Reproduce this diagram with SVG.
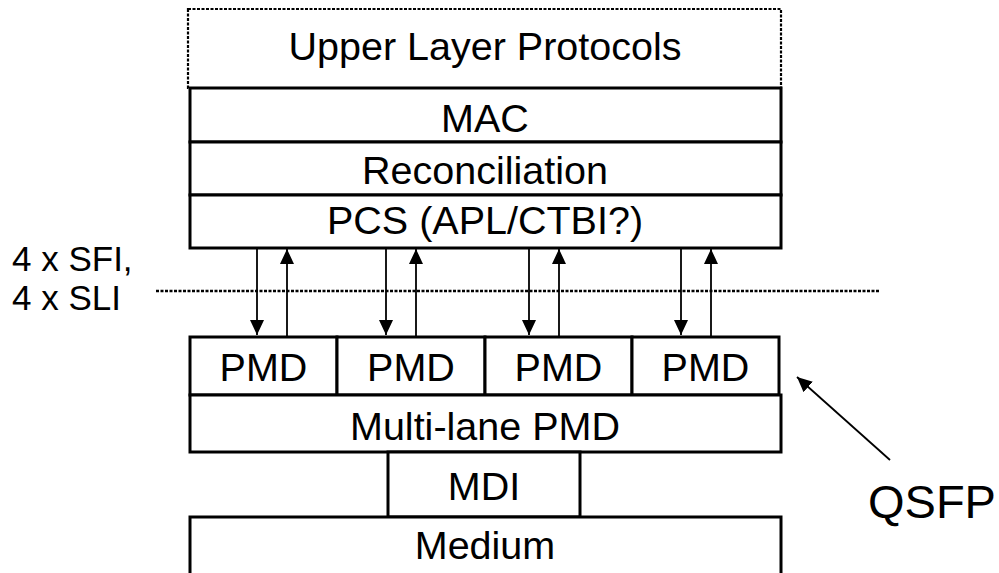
<svg xmlns="http://www.w3.org/2000/svg" width="999" height="573" viewBox="0 0 999 573">
<style>
.box{fill:#fff;stroke:#000;stroke-width:3}
.dot{fill:#fff;stroke:#000;stroke-width:2.2;stroke-dasharray:3,1.5}
text{font-family:"Liberation Sans",Arial,sans-serif;font-size:39.5px;fill:#000;text-anchor:middle}
.lbl{text-anchor:start}
.ar{stroke:#000;stroke-width:1.8;fill:none}
</style>
<defs>
<marker id="ah2" viewBox="0 0 15 14" refX="15" refY="7" markerWidth="15" markerHeight="14" markerUnits="userSpaceOnUse" orient="auto">
<path d="M0,0 L15,7 L0,14 Z" fill="#000"/>
</marker>
</defs>
<rect width="999" height="573" fill="#fff"/>
<g id="upper"><rect class="dot" x="188" y="9" width="593" height="79"/><text x="485" y="60">Upper Layer Protocols</text></g>
<g id="mac"><rect class="box" x="190" y="88" width="591" height="54"/><text x="485" y="132">MAC</text></g>
<g id="rec"><rect class="box" x="190" y="142" width="591" height="53"/><text x="485" y="184">Reconciliation</text></g>
<g id="pcs"><rect class="box" x="190" y="195" width="591" height="53"/><text x="485" y="234">PCS (APL/CTBI?)</text></g>
<g id="sfi"><text class="lbl" style="font-size:35px"><tspan x="12" y="271">4 x SFI,</tspan><tspan x="12" y="310">4 x SLI</tspan></text></g>
<line x1="156" y1="291" x2="880" y2="291" stroke="#000" stroke-width="2.4" stroke-dasharray="3,1.5"/>
<g id="pmd1"><rect class="box" x="190" y="337" width="147" height="58"/><text x="263.5" y="381">PMD</text></g>
<g id="pmd2"><rect class="box" x="337" y="337" width="148" height="58"/><text x="411" y="381">PMD</text></g>
<g id="pmd3"><rect class="box" x="485" y="337" width="147" height="58"/><text x="558.5" y="381">PMD</text></g>
<g id="pmd4"><rect class="box" x="632" y="337" width="147" height="58"/><text x="705.5" y="381">PMD</text></g>
<g id="mlpmd"><rect class="box" x="190" y="395" width="591" height="57"/><text x="485" y="440">Multi-lane PMD</text></g>
<g id="mdi"><rect class="box" x="388" y="452" width="192" height="65"/><text x="484" y="500">MDI</text></g>
<g id="medium"><rect class="box" x="190" y="517" width="591" height="70"/><text x="485" y="559">Medium</text></g>
<g id="qsfp"><text class="lbl" x="868" y="518" style="font-size:47px">QSFP</text></g>
<g id="connectors">
<line class="ar" x1="257" y1="249" x2="257" y2="335" marker-end="url(#ah2)"/>
<line class="ar" x1="287" y1="336" x2="287" y2="249" marker-end="url(#ah2)"/>
<line class="ar" x1="386" y1="249" x2="386" y2="335" marker-end="url(#ah2)"/>
<line class="ar" x1="416" y1="336" x2="416" y2="249" marker-end="url(#ah2)"/>
<line class="ar" x1="529" y1="249" x2="529" y2="335" marker-end="url(#ah2)"/>
<line class="ar" x1="559" y1="336" x2="559" y2="249" marker-end="url(#ah2)"/>
<line class="ar" x1="681" y1="249" x2="681" y2="335" marker-end="url(#ah2)"/>
<line class="ar" x1="711" y1="336" x2="711" y2="249" marker-end="url(#ah2)"/>
<line class="ar" x1="890" y1="460" x2="797" y2="377" marker-end="url(#ah2)"/>
</g>
</svg>
